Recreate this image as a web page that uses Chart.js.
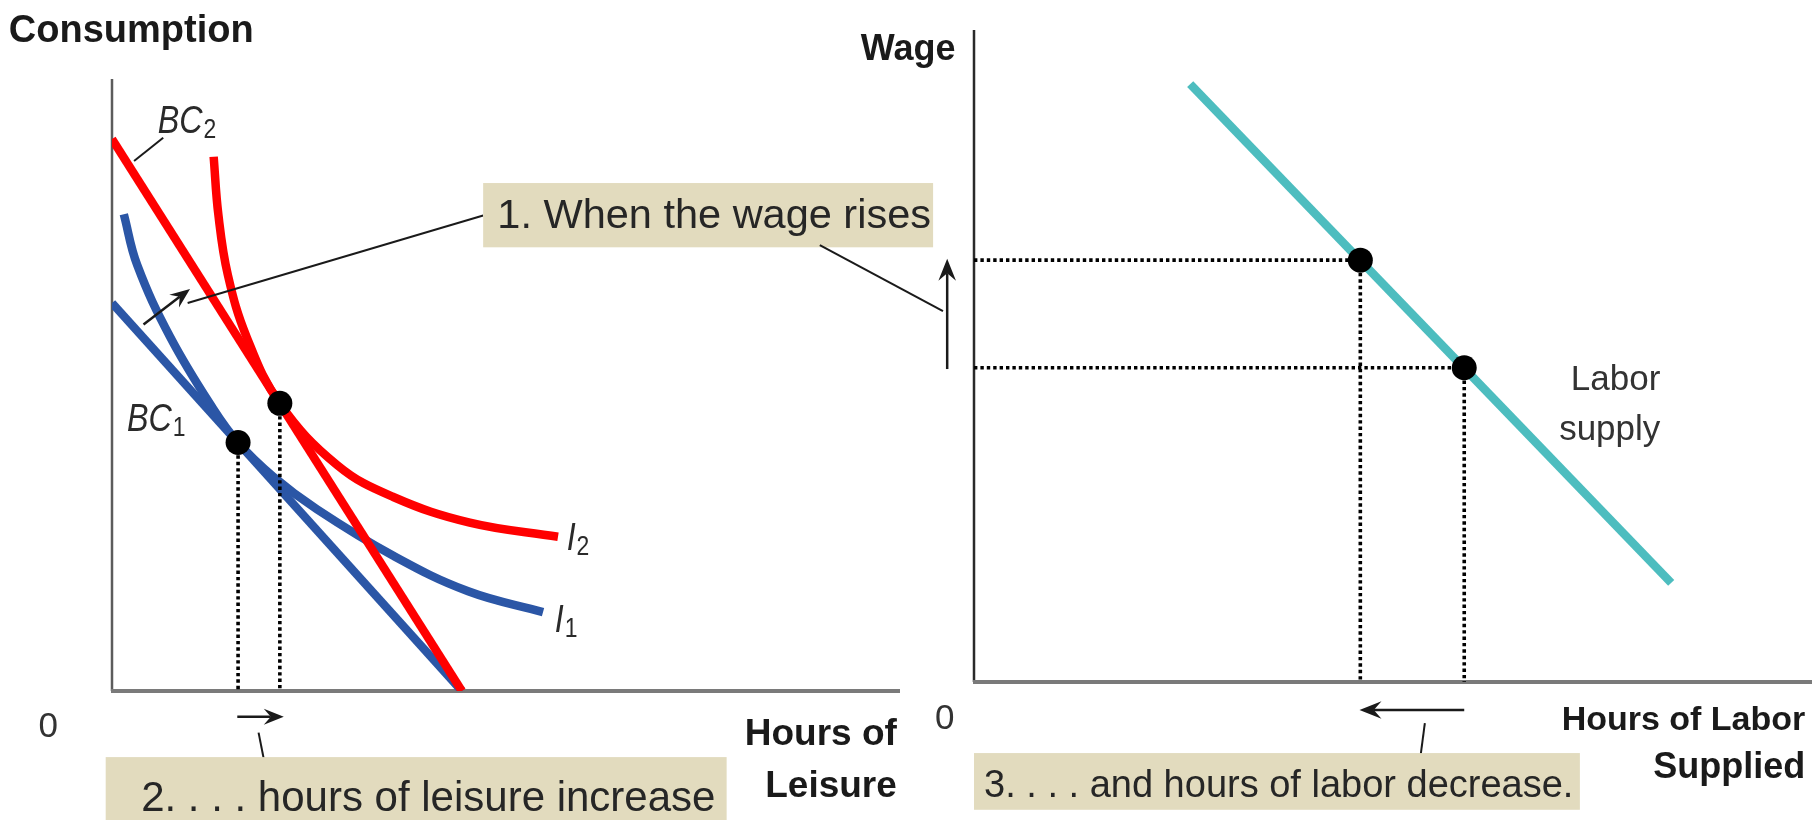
<!DOCTYPE html>
<html>
<head>
<meta charset="utf-8">
<script src="https://cdn.jsdelivr.net/npm/chart.js@4.4.1/dist/chart.umd.min.js"></script>
<style>
  html, body { margin: 0; padding: 0; background: #fff; }
  #wrap { position: relative; width: 1812px; height: 820px; overflow: hidden; }
  #wrap canvas { position: absolute; left: 0; top: 0; }
</style>
</head>
<body>
<div id="wrap">
  <canvas id="leisure" width="1812" height="820"></canvas>
  <canvas id="labor" width="1812" height="820"></canvas>
</div>
<script>
// left panel: consumption vs hours of leisure (both axes 0-100, unitless)
const bc1Leisure = [0, 44.4];
const bc1Consumption = [63.4, 0];
const bc2Leisure = [0, 44.4];
const bc2Consumption = [90.2, 0];
const i1Leisure = [1.5, 3.2, 7.4, 12.8, 16.0, 20.4, 26.0, 35.7, 45.2, 54.7];
const i1Consumption = [77.9, 69.6, 57.8, 46.2, 40.6, 35.1, 29.7, 22.1, 16.3, 12.9];
const i2Leisure = [12.9, 13.5, 14.7, 17.1, 21.3, 28.6, 35.7, 45.4, 56.6];
const i2Consumption = [87.3, 77.8, 68.0, 57.8, 47.0, 36.9, 31.7, 27.5, 25.2];
const optLeisure = [16.0, 21.3];
const optConsumption = [40.6, 47.0];

// right panel: wage vs hours of labor supplied
const supplyHours = [25.8, 83.2];
const supplyWage = [91.7, 15.2];
const chosenHours = [46.1, 58.5];
const chosenWage = [64.7, 48.2];

const RED = '#ff0000';
const BLUE = '#2b56a6';
const TEAL = '#4dbdbf';
const INK = '#1a1a1a';
const BOX = '#e2dbbe';
const SANS = '"Liberation Sans", Arial, sans-serif';

function zip(xs, ys) {
  return xs.map((x, i) => ({x: x, y: ys[i]}));
}

function curve(xs, ys, color, order) {
  return {
    data: zip(xs, ys), showLine: true, borderColor: color, borderWidth: 8.5,
    pointRadius: 0, tension: 0.4, order: order, clip: 0
  };
}

function dotted(points, order) {
  return {
    data: points, showLine: true, borderColor: '#000', borderWidth: 3.6,
    borderDash: [3.4, 3], pointRadius: 0, order: order, clip: 0
  };
}

function dots(xs, ys) {
  return {
    data: zip(xs, ys), showLine: false, pointRadius: 12.5,
    pointBackgroundColor: '#000', pointBorderWidth: 0, order: 0
  };
}

function px(chart, x, y) {
  return [chart.scales.x.getPixelForValue(x), chart.scales.y.getPixelForValue(y)];
}

function line(chart, a, b) {
  const ctx = chart.ctx;
  const p = px(chart, a[0], a[1]), q = px(chart, b[0], b[1]);
  ctx.save();
  ctx.strokeStyle = INK;
  ctx.lineWidth = 2;
  ctx.beginPath(); ctx.moveTo(p[0], p[1]); ctx.lineTo(q[0], q[1]); ctx.stroke();
  ctx.restore();
}

function arrow(chart, a, b, len) {
  const ctx = chart.ctx;
  const p = px(chart, a[0], a[1]), q = px(chart, b[0], b[1]);
  const ang = Math.atan2(q[1] - p[1], q[0] - p[0]);
  const c = Math.cos(ang), s = Math.sin(ang), w = len * 0.4;
  const nx = q[0] - c * len * 0.65, ny = q[1] - s * len * 0.65;
  ctx.save();
  ctx.strokeStyle = INK; ctx.fillStyle = INK; ctx.lineWidth = 2.5;
  ctx.beginPath(); ctx.moveTo(p[0], p[1]); ctx.lineTo(nx, ny); ctx.stroke();
  ctx.beginPath();
  ctx.moveTo(q[0], q[1]);
  ctx.lineTo(q[0] - c * len + s * w, q[1] - s * len - c * w);
  ctx.lineTo(nx, ny);
  ctx.lineTo(q[0] - c * len - s * w, q[1] - s * len + c * w);
  ctx.closePath(); ctx.fill();
  ctx.restore();
}

function text(chart, str, x, y, font, align, color) {
  const ctx = chart.ctx;
  const p = px(chart, x, y);
  ctx.save();
  ctx.font = font; ctx.fillStyle = color || INK;
  ctx.textAlign = align || 'left'; ctx.textBaseline = 'alphabetic';
  ctx.fillText(str, p[0], p[1]);
  ctx.restore();
}

function middleText(chart, str, x, y, font) {
  const ctx = chart.ctx;
  const p = px(chart, x, y);
  ctx.save();
  ctx.font = font; ctx.fillStyle = '#333';
  ctx.textAlign = 'center'; ctx.textBaseline = 'middle';
  ctx.fillText(str, p[0], p[1]);
  ctx.restore();
}

// italic name with an upright subscript, e.g. BC2, I1
function curveName(chart, name, sub, x, y) {
  const ctx = chart.ctx;
  const p = px(chart, x, y);
  ctx.save();
  ctx.fillStyle = '#2a2a2a';
  ctx.translate(p[0], p[1]);
  ctx.scale(0.85, 1);
  ctx.font = 'italic 38px ' + SANS;
  ctx.fillText(name, 0, 0);
  const w = ctx.measureText(name).width;
  ctx.font = '27px ' + SANS;
  ctx.fillText(sub, w + 1, 5);
  ctx.restore();
}

function box(chart, str, size, x0, x1, yTop, yBot, tx, ty) {
  const ctx = chart.ctx;
  const a = px(chart, x0, yTop), b = px(chart, x1, yBot);
  ctx.save();
  ctx.fillStyle = BOX;
  ctx.fillRect(a[0], a[1], b[0] - a[0], b[1] - a[1]);
  ctx.restore();
  text(chart, str, tx, ty, size + 'px ' + SANS, 'left', '#262626');
}

function axes(chart, yColor, yWidth) {
  const ctx = chart.ctx, area = chart.chartArea;
  ctx.save();
  ctx.strokeStyle = yColor; ctx.lineWidth = yWidth;
  ctx.beginPath(); ctx.moveTo(area.left, area.top); ctx.lineTo(area.left, area.bottom); ctx.stroke();
  ctx.strokeStyle = '#7a7a7a'; ctx.lineWidth = 4;
  ctx.beginPath(); ctx.moveTo(area.left - 1, area.bottom); ctx.lineTo(area.right, area.bottom); ctx.stroke();
  ctx.restore();
}

const leftDecor = {
  id: 'leftDecor',
  beforeDatasetsDraw(chart) {
    axes(chart, '#5c5c5c', 2.5);
  },
  afterDatasetsDraw(chart) {
    text(chart, 'Consumption', -13.1, 106.0, 'bold 38px ' + SANS);
    middleText(chart, '0', -8.1, -6.0, '35px ' + SANS);
    text(chart, 'Hours of', 99.6, -8.8, 'bold 37px ' + SANS, 'right');
    text(chart, 'Leisure', 99.6, -17.3, 'bold 37px ' + SANS, 'right');

    curveName(chart, 'BC', '2', 5.8, 91.2);
    curveName(chart, 'BC', '1', 1.9, 42.5);
    curveName(chart, 'I', '2', 57.7, 23.0);
    curveName(chart, 'I', '1', 56.2, 9.6);
    line(chart, [6.5, 90.4], [2.8, 86.6]);

    arrow(chart, [4.0, 59.9], [9.9, 65.7], 20);
    line(chart, [47.1, 77.7], [9.6, 63.4]);
    box(chart, '1. When the wage rises', 41.5, 47.1, 104.2, 83.0, 72.5, 48.9, 75.7);

    arrow(chart, [15.9, -4.2], [21.8, -4.2], 20);
    line(chart, [18.6, -6.8], [19.4, -12.0]);
    box(chart, '2. . . . hours of leisure increase', 42, -0.8, 78.0, -10.8, -21.5, 3.7, -19.6);
  }
};

const rightDecor = {
  id: 'rightDecor',
  beforeDatasetsDraw(chart) {
    axes(chart, '#2a2a2a', 2.5);
  },
  afterDatasetsDraw(chart) {
    const bold = 'bold 36px ' + SANS;
    text(chart, 'Wage', -13.5, 95.4, bold);
    middleText(chart, '0', -3.5, -5.7, '35px ' + SANS);
    text(chart, 'Hours of Labor', 99.2, -7.4, 'bold 34px ' + SANS, 'right');
    text(chart, 'Supplied', 99.2, -14.7, bold, 'right');
    text(chart, 'Labor', 81.9, 44.8, '35px ' + SANS, 'right', '#333');
    text(chart, 'supply', 81.9, 37.1, '35px ' + SANS, 'right', '#333');

    arrow(chart, [-3.2, 48.0], [-3.2, 64.9], 22);
    line(chart, [-18.4, 67.0], [-3.7, 56.9]);

    arrow(chart, [58.5, -4.3], [46.0, -4.3], 22);
    line(chart, [53.8, -6.3], [53.3, -11.2]);
    box(chart, '3. . . . and hours of labor decrease.', 38, 0, 72.3, -10.9, -19.6, 1.2, -17.6);
  }
};

function baseOptions(pad) {
  return {
    responsive: false,
    animation: false,
    layout: {padding: pad, autoPadding: false},
    plugins: {legend: {display: false}, tooltip: {enabled: false}},
    scales: {
      x: {type: 'linear', min: 0, max: 100, display: false},
      y: {type: 'linear', min: 0, max: 100, display: false}
    }
  };
}

new Chart(document.getElementById('leisure'), {
  type: 'scatter',
  data: {
    datasets: [
      dots(optLeisure, optConsumption),
      dotted([{x: optLeisure[0], y: optConsumption[0]}, {x: optLeisure[0], y: 0}], 1),
      dotted([{x: optLeisure[1], y: optConsumption[1]}, {x: optLeisure[1], y: 0}], 1),
      curve(i2Leisure, i2Consumption, RED, 2),
      curve(bc2Leisure, bc2Consumption, RED, 3),
      curve(i1Leisure, i1Consumption, BLUE, 4),
      curve(bc1Leisure, bc1Consumption, BLUE, 5)
    ]
  },
  options: baseOptions({left: 112, top: 79, right: 912, bottom: 129}),
  plugins: [leftDecor]
});

new Chart(document.getElementById('labor'), {
  type: 'scatter',
  data: {
    datasets: [
      dots(chosenHours, chosenWage),
      dotted([{x: 0, y: chosenWage[0]}, {x: chosenHours[0], y: chosenWage[0]}], 1),
      dotted([{x: 0, y: chosenWage[1]}, {x: chosenHours[1], y: chosenWage[1]}], 1),
      dotted([{x: chosenHours[0], y: chosenWage[0]}, {x: chosenHours[0], y: 0}], 1),
      dotted([{x: chosenHours[1], y: chosenWage[1]}, {x: chosenHours[1], y: 0}], 1),
      curve(supplyHours, supplyWage, TEAL, 2)
    ]
  },
  options: baseOptions({left: 974, top: 30, right: 0, bottom: 138}),
  plugins: [rightDecor]
});
</script>
</body>
</html>
